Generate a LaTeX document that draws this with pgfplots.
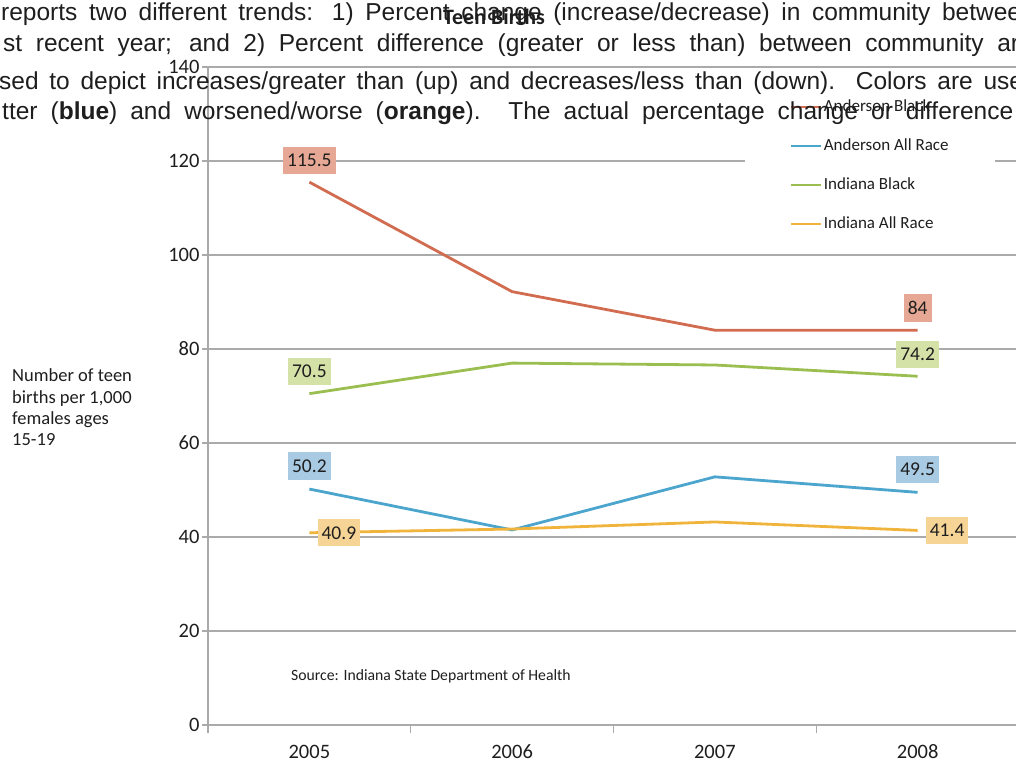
\documentclass[border=0pt]{standalone}
\usepackage{fontspec}
\setmainfont{Carlito}
\newfontfamily\docfont{Liberation Sans}
\usepackage{pgfplots}
\pgfplotsset{compat=1.18}
\definecolor{cAB}{RGB}{210,108,80}
\definecolor{cAR}{RGB}{75,165,205}
\definecolor{cIB}{RGB}{155,190,80}
\definecolor{cIR}{RGB}{240,180,60}
\definecolor{fAB}{RGB}{230,168,148}
\definecolor{fAR}{RGB}{168,202,226}
\definecolor{fIB}{RGB}{212,226,168}
\definecolor{fIR}{RGB}{246,212,150}
\definecolor{gridc}{RGB}{170,170,170}
\definecolor{txt}{RGB}{30,30,30}
\begin{document}
\begin{tikzpicture}[x=1pt,y=1pt]
\useasboundingbox (0,0) rectangle (1016,761);
\clip (0,0) rectangle (1016,761);
\begin{axis}[
  at={(208pt,36pt)}, anchor=south west,
  scale only axis, width=811pt, height=658pt,
  xmin=-0.5, xmax=3.5, ymin=0, ymax=140,
  xtick={0,1,2,3}, xticklabels={2005,2006,2007,2008},
  minor xtick={-0.5,0.5,1.5,2.5,3.5},
  ytick={0,20,40,60,80,100,120,140},
  axis x line=bottom, axis y line=left,
  axis line style={-, draw=gridc, line width=1.2pt},
  ymajorgrids, grid style={draw=gridc, line width=1.2pt},
  tick align=outside, major tick length=6pt, minor tick length=8pt,
  major x tick style={draw=none},
  minor x tick style={draw=gridc, line width=1.2pt},
  y tick style={draw=gridc, line width=1.2pt},
  /pgf/number format/assume math mode=true,
  ticklabel style={font=\fontsize{20.5}{22}\selectfont, text=txt},
  yticklabel style={xshift=1pt},
  xticklabel style={anchor=north, inner sep=0pt, text height=13pt, text depth=0pt, yshift=-14pt},
  legend cell align=left,
  legend style={at={(0.662,0.960)}, anchor=north west, fill=white, draw=none,
    inner xsep=45pt, inner ysep=6pt, row sep=24pt,
    font=\fontsize{17}{20}\selectfont, text=txt,
    nodes={inner xsep=1pt, inner ysep=0pt, text height=12pt, text depth=3pt},
    /tikz/column sep=0pt},
  legend image code/.code={\draw[#1] (0pt,0pt) -- (30pt,0pt);},
  every node near coord/.append style={font=\fontsize{19.5}{22}\selectfont, text=txt,
    inner xsep=4pt, inner ysep=7.3pt},
]
\addplot[cAB, line width=2.8pt] coordinates {(0,115.5) (1,92.2) (2,84) (3,84)};
\addlegendentry{Anderson Black}
\addplot[cAR, line width=2.8pt] coordinates {(0,50.2) (1,41.5) (2,52.8) (3,49.5)};
\addlegendentry{Anderson All Race}
\addplot[cIB, line width=2.8pt] coordinates {(0,70.5) (1,77.0) (2,76.6) (3,74.2)};
\addlegendentry{Indiana Black}
\addplot[cIR, line width=2.8pt] coordinates {(0,40.9) (1,41.7) (2,43.2) (3,41.4)};
\addlegendentry{Indiana All Race}
\addplot[draw=none, forget plot, nodes near coords, point meta=explicit symbolic,
  nodes near coords style={fill=fAB, anchor=south, yshift=8pt}]
  coordinates {(0,115.5)[115.5] (3,84)[84]};
\addplot[draw=none, forget plot, nodes near coords, point meta=explicit symbolic,
  nodes near coords style={fill=fAR, anchor=south, yshift=9pt}]
  coordinates {(0,50.2)[50.2] (3,49.5)[49.5]};
\addplot[draw=none, forget plot, nodes near coords, point meta=explicit symbolic,
  nodes near coords style={fill=fIB, anchor=south, yshift=8pt}]
  coordinates {(0,70.5)[70.5] (3,74.2)[74.2]};
\addplot[draw=none, forget plot, nodes near coords, point meta=explicit symbolic,
  nodes near coords style={fill=fIR, anchor=west, xshift=8pt}]
  coordinates {(0,40.9)[40.9] (3,41.4)[41.4]};
\end{axis}
% y-axis title
\begin{scope}[every node/.style={anchor=base west, inner sep=0pt, font=\fontsize{18.5}{20}\selectfont, text=txt}]
\node at (12,{761-382}) {Number of teen};
\node at (12,{761-403}) {births per 1,000};
\node at (12,{761-424}) {females ages};
\node at (12,{761-445}) {15-19};
\end{scope}
\node[anchor=west, inner sep=0pt, font=\fontsize{15.7}{17}\selectfont, text=txt] at (291,{761-676}) {Source: Indiana State Department of Health};
% chart title
\node[inner sep=0pt, font=\bfseries\fontsize{22}{24}\selectfont, text=txt] at (494,{761-17}) {Teen Births};
% overlapping document text (justified lines)
\begin{scope}[every node/.style={anchor=base west, inner sep=0pt, font=\docfont\fontsize{24.5}{26}\selectfont, text=txt}]
\node at (1,{761-21}) {\makebox[1020pt][s]{reports two different trends: 1) Percent change (increase/decrease) in community betwee}};
\node at (3,{761-52}) {\makebox[1016pt][s]{st recent year; and 2) Percent difference (greater or less than) between community ar}};
\node at (-1,{761-90}) {\makebox[1024pt][s]{sed to depict increases/greater than (up) and decreases/less than (down). Colors are use}};
\node at (2,{761-120}) {\makebox[1011pt][s]{tter (\textbf{blue}) and worsened/worse (\textbf{orange}). The actual percentage change or difference}};
\end{scope}
\end{tikzpicture}
\end{document}
